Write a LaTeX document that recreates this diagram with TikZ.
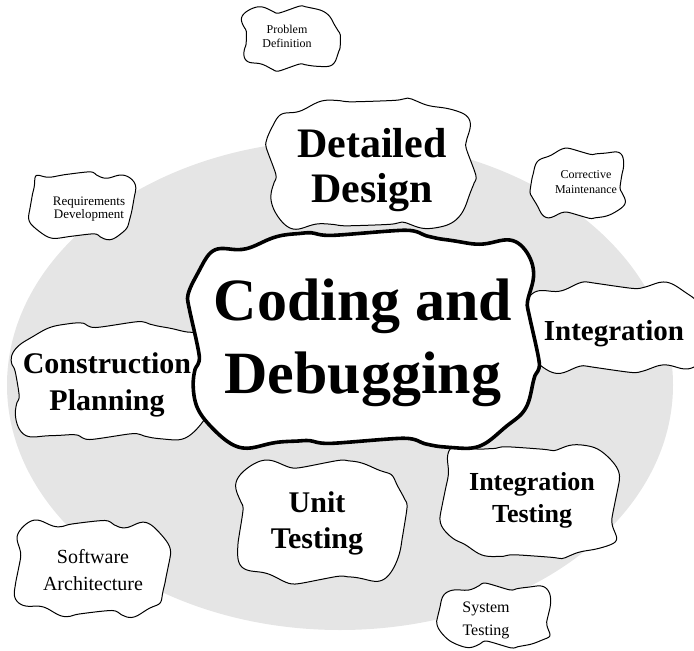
\documentclass[tikz,border=0pt]{standalone}
\usepackage{fontspec}
\setmainfont{Liberation Serif}
\definecolor{bg}{RGB}{229,229,229}
\tikzset{
  declare function={
    spx(\u)=sign(cos(\u))*pow(abs(cos(\u)),0.4);
    spy(\u)=sign(sin(\u))*pow(abs(sin(\u)),0.4);
  },
  cloudline/.style={draw=black, fill=white, line width=1pt, line join=round},
  coreline/.style={draw=black, fill=white, line width=3.6pt, line join=round},
  lbl/.style={anchor=base, inner sep=0pt, text=black},
}
% cx cy a b amplitude k(deg/px) phase style
\newcommand\wob[8]{%
  \path[#8] plot[smooth cycle, variable=\t, domain=1.25:358.75, samples=144]
  ({#1+#3*spx(\t)+#5*(sin(#6*#4*spy(\t)+#7)+0.35*sin(1.7*#6*#4*spy(\t)+2*#7))},
   {#2+#4*spy(\t)+#5*(sin(#6*#3*spx(\t)+#7+90)+0.35*sin(1.7*#6*#3*spx(\t)+3*#7))});
}
\newcommand\tl[2]{\begin{tabular}[t]{@{}c@{}}#1\\#2\end{tabular}}
\begin{document}
\begin{tikzpicture}[x=1pt,y=-1pt]
\useasboundingbox (0,0) rectangle (694,651);
\clip (0,0) rectangle (694,651);
% background ellipse
\fill[bg] (340,385) ellipse [x radius=333, y radius=245];
% small clouds
\wob{291}{38}{47}{29}{3}{7}{70}{cloudline}
\wob{82}{205}{51}{31}{3}{7}{170}{cloudline}
\wob{578}{184}{45}{32}{3}{7}{270}{cloudline}
\wob{92}{568}{75}{45}{3.5}{6}{150}{cloudline}
\wob{495}{616}{55}{29}{3}{7}{250}{cloudline}
% medium clouds
\wob{371}{165}{100}{62}{4}{5}{10}{cloudline}
\wob{612}{328}{87}{42}{3.5}{5}{300}{cloudline}
\wob{114}{382}{98}{56}{4}{5}{50}{cloudline}
\wob{321}{521}{82}{58}{4}{4.5}{100}{cloudline}
\wob{530}{500}{86}{54}{4}{5.5}{200}{cloudline}
% central cloud
\wob{365}{341}{170}{104}{6}{3.4}{40}{coreline}
% labels
\node[lbl, font=\fontsize{12}{14}\selectfont] (prob) at (287,33) {\tl{Problem}{Definition}};
\node[lbl, font=\fontsize{13}{13}\selectfont] (req) at (89,205) {\tl{Requirements}{Development}};
\node[lbl, font=\fontsize{12}{15}\selectfont] (corr) at (586,178) {\tl{Corrective}{Maintenance}};
\node[lbl, font=\fontsize{42}{45}\selectfont\bfseries] (dd) at (372,157) {\tl{Detailed}{Design}};
\node[lbl, font=\fontsize{60}{73}\selectfont\bfseries] (code) at (363,320) {\tl{Coding and}{Debugging}};
\node[lbl, font=\fontsize{29}{33}\selectfont\bfseries] (integ) at (614,340) {Integration};
\node[lbl, font=\fontsize{30}{37}\selectfont\bfseries] (cp) at (107,373) {\tl{Construction}{Planning}};
\node[lbl, font=\fontsize{30}{36}\selectfont\bfseries] (ut) at (317,512) {\tl{Unit}{Testing}};
\node[lbl, font=\fontsize{26}{32}\selectfont\bfseries] (it) at (532,490) {\tl{Integration}{Testing}};
\node[lbl, font=\fontsize{20}{27}\selectfont] (sa) at (93,563) {\tl{Software}{Architecture}};
\node[lbl, font=\fontsize{16}{23}\selectfont] (st) at (486,612) {\tl{System}{Testing}};
\end{tikzpicture}
\end{document}
